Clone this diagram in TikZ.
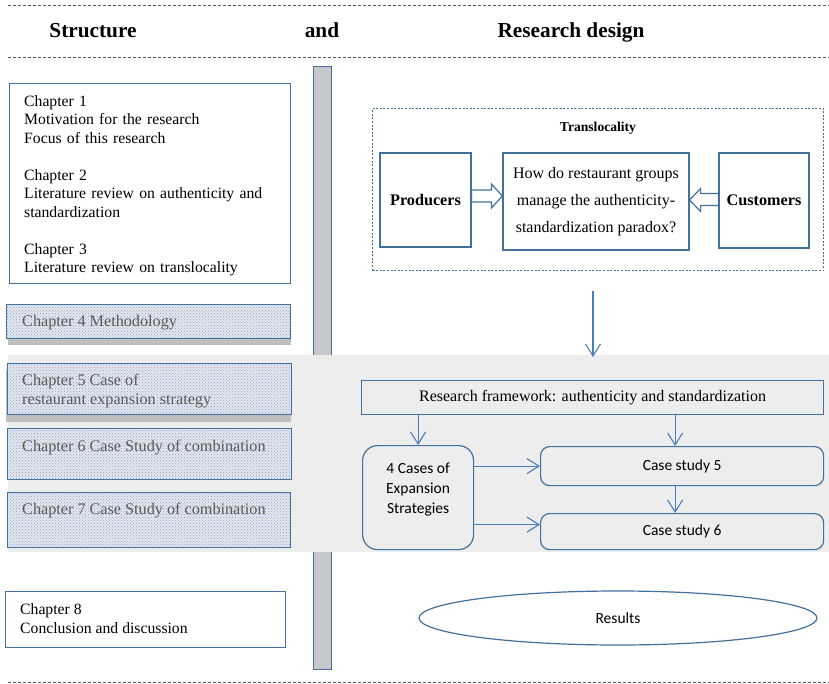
\documentclass[tikz,border=0pt]{standalone}
\usepackage{fontspec}
\setmainfont{Liberation Serif}
\newfontfamily\calfont{Carlito}
\usetikzlibrary{arrows.meta,patterns,shapes.geometric,calc}

\definecolor{lineblue}{HTML}{41719C}
\definecolor{arrowblue}{HTML}{4A7EBB}
\definecolor{bandgray}{HTML}{EDEDED}
\definecolor{bargray}{HTML}{C6C7CB}
\definecolor{dotfill}{HTML}{E2E7F0}
\definecolor{dotcolor}{HTML}{95A2BE}
\definecolor{chaptext}{HTML}{5A5A5A}
\definecolor{shadowgray}{HTML}{BFBFBF}
\definecolor{rulegray}{HTML}{555555}

\begin{document}
\begin{tikzpicture}[x=1pt,y=-1pt,
  sep/.style={draw=rulegray, line width=0.7pt, dash pattern=on 3pt off 2pt},
  header/.style={font=\fontsize{21.3}{24}\selectfont\bfseries, inner sep=0, anchor=base},
  plainbox/.style={draw=lineblue, line width=1.2pt, fill=white, inner sep=0},
  chapbox/.style={draw=lineblue, line width=1.2pt, inner sep=0,
    preaction={fill=dotfill}, pattern=crosshatch dots, pattern color=dotcolor},
  chaplabel/.style={text=chaptext, font=\fontsize{16.2}{19}\selectfont,
    align=left, inner sep=0, anchor=north west},
  serifbox/.style={draw=lineblue, line width=1.2pt, fill=white, inner sep=0,
    font=\fontsize{16}{27}\selectfont},
  sansbox/.style={draw=lineblue, line width=1.2pt, fill=bandgray, inner sep=0,
    rounded corners=9pt, font=\calfont\fontsize{15.5}{20}\selectfont},
  arr/.style={draw=arrowblue, line width=1.1pt,
    -{Straight Barb[length=12pt,width=15pt,line width=1.1pt]}},
  hollow/.style={draw=lineblue, line width=1.2pt, fill=white, line join=miter}
]
\useasboundingbox (0,0) rectangle (829,684);

% horizontal separators and titles
\coordinate (s1a) at (8,5);    \coordinate (s1b) at (829,5);
\coordinate (s2a) at (8,57);   \coordinate (s2b) at (829,57);
\coordinate (s3a) at (8,682);  \coordinate (s3b) at (829,682);
\draw[sep] (s1a) -- (s1b);
\draw[sep] (s2a) -- (s2b);
\draw[sep] (s3a) -- (s3b);
\node[header] (hstruct) at (93,38) {Structure};
\node[header] (hand) at (322,38) {and};
\node[header] (hdesign) at (571,38) {Research design};

% vertical divider
\node[draw=lineblue, line width=1pt, fill=bargray, minimum width=18, minimum height=602,
  inner sep=0] (bar) at (322.5,368) {};

% shaded band behind the case-study rows
\node[fill=bandgray, minimum width=821, minimum height=197, inner sep=0] (band) at (418.5,453.5) {};

% left column: chapters
\node[plainbox, minimum width=281, minimum height=200, anchor=north west] (c13) at (9,83) {};
\node[anchor=north west, inner sep=0, align=left, text width=262,
  font=\fontsize{15.7}{18.5}\selectfont] (c13t) at (24,95)
  {Chapter 1\\Motivation for the research\\Focus of this research\\[18.5pt]
   Chapter 2\\Literature review on authenticity and\\standardization\\[18.5pt]
   Chapter 3\\Literature review on translocality};

\fill[shadowgray] (8,310) rectangle (291,345);
\node[chapbox, minimum width=284, minimum height=34, anchor=north west] (c4) at (6,304) {};
\node[chaplabel] (c4t) at ($(c4.north west)+(16,11)$) {Chapter 4 Methodology};

\fill[shadowgray] (6,370) rectangle (291,422);
\node[chapbox, minimum width=284, minimum height=51, anchor=north west] (c5) at (7,363) {};
\node[chaplabel] (c5t) at ($(c5.north west)+(15,11)$) {Chapter 5 Case of\\restaurant expansion strategy};

\node[chapbox, minimum width=284, minimum height=51, anchor=north west] (c6) at (7,428) {};
\node[chaplabel] (c6t) at ($(c6.north west)+(15,12)$) {Chapter 6 Case Study of combination};

\node[chapbox, minimum width=283, minimum height=55, anchor=north west] (c7) at (7,492) {};
\node[chaplabel] (c7t) at ($(c7.north west)+(15,11)$) {Chapter 7 Case Study of combination};

\node[plainbox, minimum width=280, minimum height=56, anchor=north west] (c8) at (5,591) {};
\node[anchor=north west, inner sep=0, align=left, font=\fontsize{15.7}{19}\selectfont]
  (c8t) at (20,603) {Chapter 8\\Conclusion and discussion};

% right column: research design
\node[draw=lineblue, line width=1.2pt, dash pattern=on 2pt off 1.6pt,
  minimum width=451, minimum height=162, inner sep=0, anchor=north west] (transl) at (372,108) {};
\node[font=\fontsize{13.6}{15}\selectfont\bfseries, inner sep=0] (translt) at (598,128) {Translocality};

\node[plainbox, minimum width=91, minimum height=94,
  font=\fontsize{16.2}{18}\selectfont\bfseries] (prod) at (425.5,200) {Producers};
\node[serifbox, minimum width=186, minimum height=97, align=center] (quest) at (596,201.5)
  {How do restaurant groups\\manage the authenticity-\\standardization paradox?};
\node[plainbox, minimum width=90, minimum height=95,
  font=\fontsize{16.2}{18}\selectfont\bfseries] (cust) at (764,200.5) {Customers};

% hollow block arrows into the question
\draw[hollow] let \p1=(prod.east), \p2=(quest.west) in
  (\x1,\y1+10pt) -- (\x2-11pt,\y1+10pt) -- (\x2-11pt,\y1+16pt) -- (\x2,\y1+4pt)
  -- (\x2-11pt,\y1-8pt) -- (\x2-11pt,\y1-2pt) -- (\x1,\y1-2pt) -- cycle;
\draw[hollow] let \p1=(cust.west), \p2=(quest.east) in
  (\x1,\y1+7pt) -- (\x2+11pt,\y1+7pt) -- (\x2+11pt,\y1+12pt) -- (\x2,\y1+0.5pt)
  -- (\x2+11pt,\y1-11pt) -- (\x2+11pt,\y1-5pt) -- (\x1,\y1-5pt) -- cycle;

\coordinate (downA) at (593,291);
\coordinate (downB) at (593,357);
\draw[arr] (downA) -- (downB);

\node[draw=lineblue, line width=1.2pt, fill=bandgray, minimum width=462, minimum height=34,
  inner sep=0, anchor=north west, font=\fontsize{16}{18}\selectfont] (frame) at (361,380)
  {Research framework: authenticity and standardization};

\node[sansbox, rounded corners=15pt, minimum width=111, minimum height=104,
  anchor=north west] (cases) at (362,445) {};
\node[font=\calfont\fontsize{15.5}{20}\selectfont, align=center, inner sep=0] (casest)
  at ($(cases.center)+(0,-8)$) {4 Cases of\\Expansion\\Strategies};
\node[sansbox, minimum width=283, minimum height=39, anchor=north west] (cs5) at (540,446) {Case study 5};
\node[sansbox, minimum width=283, minimum height=36, anchor=north west] (cs6) at (540,513) {Case study 6};

\draw[arr] (cases.north |- frame.south) -- (cases.north);
\draw[arr] ([xshift=-7pt]cs5.north |- frame.south) -- ([xshift=-7pt]cs5.north);
\draw[arr] ([xshift=-7pt]cs5.south) -- ([xshift=-7pt]cs6.north);
\draw[arr] (cases.east |- cs5.west) -- (cs5.west);
\draw[arr] ([yshift=7pt]cases.east |- cs6.west) -- ([yshift=7pt]cs6.west);

\node[ellipse, draw=lineblue, line width=1.2pt, minimum width=398, minimum height=54,
  inner sep=0, font=\calfont\fontsize{15.5}{18}\selectfont] (results) at (618,618) {Results};
\end{tikzpicture}
\end{document}
